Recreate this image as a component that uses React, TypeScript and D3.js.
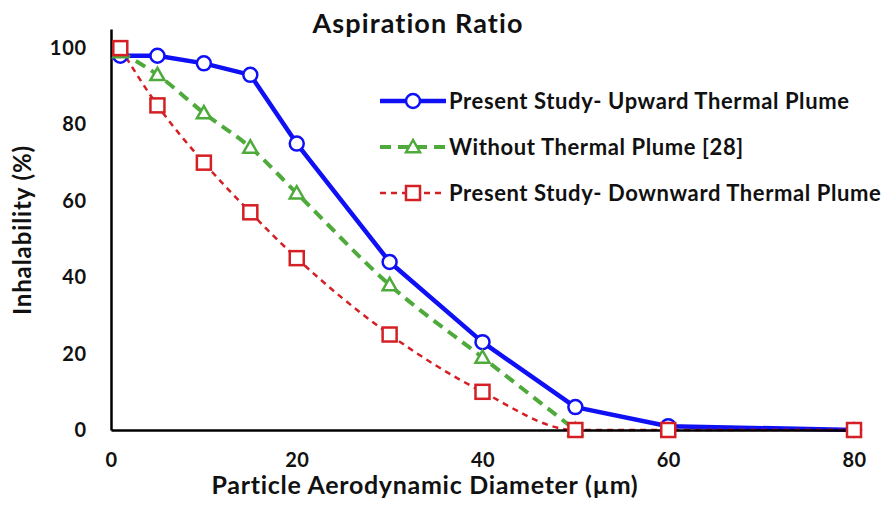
import { useEffect, useRef } from "react";
import * as d3 from "d3";

const diameters = [1, 5, 10, 15, 20, 30, 40, 50, 60, 80];
const upwardValues = [98, 98, 96, 93, 75, 44, 23, 6, 1, 0];
const withoutDiameters = [1, 5, 10, 15, 20, 30, 40, 50];
const withoutValues = [99, 93, 83, 74, 62, 38, 19, 0];
const downwardValues = [100, 85, 70, 57, 45, 25, 10, 0, 0, 0];
const xTicks = [0, 20, 40, 60, 80];
const yTicks = [0, 20, 40, 60, 80, 100];

const FONT = "Lato, 'Open Sans', sans-serif";
const BLUE = "#1010f5";
const GREEN = "#4faa3c";
const RED = "#d41f24";

type Pt = { x: number; y: number };

const upward: Pt[] = diameters.map((x, i) => ({ x, y: upwardValues[i] }));
const without: Pt[] = withoutDiameters.map((x, i) => ({ x, y: withoutValues[i] }));
const downward: Pt[] = diameters.map((x, i) => ({ x, y: downwardValues[i] }));

function Marker({ kind, cx, cy, color }: { kind: string; cx: number; cy: number; color: string }) {
  if (kind === "circle")
    return <circle cx={cx} cy={cy} r={7} fill="#fff" stroke={color} strokeWidth={2.5} />;
  if (kind === "triangle") {
    const s = 7;
    const pts = `${cx},${cy - s} ${cx - s},${cy + s * 0.75} ${cx + s},${cy + s * 0.75}`;
    return <polygon points={pts} fill="#fff" stroke={color} strokeWidth={2.5} />;
  }
  return <rect x={cx - 7} y={cy - 7} width={14} height={14} fill="#fff" stroke={color} strokeWidth={2.5} />;
}

export default function App() {
  const xRef = useRef<SVGGElement>(null);
  const yRef = useRef<SVGGElement>(null);

  const x = d3.scaleLinear().domain([0, 80]).range([111, 854]);
  const y = d3.scaleLinear().domain([0, 105]).range([430, 29]);

  useEffect(() => {
    document.body.style.margin = "0";
    if (xRef.current) {
      const g = d3.select(xRef.current);
      g.call(d3.axisBottom(x).tickValues(xTicks).tickSize(0).tickPadding(23));
      g.select(".domain").attr("stroke", "#000").attr("stroke-width", 2.5);
      g.selectAll("text")
        .attr("font-family", FONT)
        .attr("font-size", 20)
        .attr("font-weight", 700)
        .attr("letter-spacing", 0.4)
        .attr("fill", "#111");
    }
    if (yRef.current) {
      const g = d3.select(yRef.current);
      g.call(d3.axisLeft(y).tickValues(yTicks).tickSize(0).tickPadding(24));
      g.select(".domain").attr("stroke", "#000").attr("stroke-width", 2.5);
      g.selectAll("text")
        .attr("font-family", FONT)
        .attr("font-size", 20)
        .attr("font-weight", 700)
        .attr("letter-spacing", 0.8)
        .attr("fill", "#111");
    }
  }, []);

  const straight = d3
    .line<Pt>()
    .x((d) => x(d.x))
    .y((d) => y(d.y));
  const smooth = d3
    .line<Pt>()
    .x((d) => x(d.x))
    .y((d) => y(d.y))
    .curve(d3.curveMonotoneX);

  const series = [
    { label: "Present Study- Upward Thermal Plume", data: upward, color: BLUE, width: 4.5, dash: "none", kind: "circle", line: straight },
    { label: "Without Thermal Plume [28]", data: without, color: GREEN, width: 4, dash: "11,7", kind: "triangle", line: smooth },
    { label: "Present Study- Downward Thermal Plume", data: downward, color: RED, width: 2.5, dash: "6,5", kind: "square", line: smooth },
  ];

  return (
    <div style={{ position: "absolute", left: 0, top: 0 }}>
      <svg width={887} height={512} style={{ display: "block", background: "#fff" }}>
        <text x={418} y={33} textAnchor="middle" fontFamily={FONT} fontSize={27} fontWeight={700} letterSpacing={1.1} fill="#111">
          Aspiration Ratio
        </text>
        {series.map((s) => (
          <path
            key={s.label}
            d={s.line(s.data) as string}
            fill="none"
            stroke={s.color}
            strokeWidth={s.width}
            strokeDasharray={s.dash}
            strokeLinejoin="round"
          />
        ))}
        <g ref={xRef} transform="translate(0,430)" />
        <g ref={yRef} transform="translate(111,0)" />
        {series.map((s) =>
          s.data.map((d) => (
            <Marker key={`${s.kind}-${d.x}`} kind={s.kind} cx={x(d.x)} cy={y(d.y)} color={s.color} />
          ))
        )}
        {series.map((s, i) => {
          const ly = 101 + i * 46;
          return (
            <g key={`legend-${s.label}`}>
              <line x1={380} x2={446} y1={ly} y2={ly} stroke={s.color} strokeWidth={s.width} strokeDasharray={s.dash} />
              <Marker kind={s.kind} cx={413} cy={ly} color={s.color} />
              <text x={449} y={ly + 8} fontFamily={FONT} fontSize={22} fontWeight={700} letterSpacing={0.6} fill="#111">
                {s.label}
              </text>
            </g>
          );
        })}
        <text x={425} y={494} textAnchor="middle" fontFamily={FONT} fontSize={25} fontWeight={700} letterSpacing={0.7} fill="#111">
          Particle Aerodynamic Diameter (µm)
        </text>
        <text
          transform="translate(31,230) rotate(-90)"
          textAnchor="middle"
          fontFamily={FONT}
          fontSize={24}
          fontWeight={700}
          letterSpacing={0.9}
          fill="#111"
        >
          Inhalability (%)
        </text>
      </svg>
    </div>
  );
}
